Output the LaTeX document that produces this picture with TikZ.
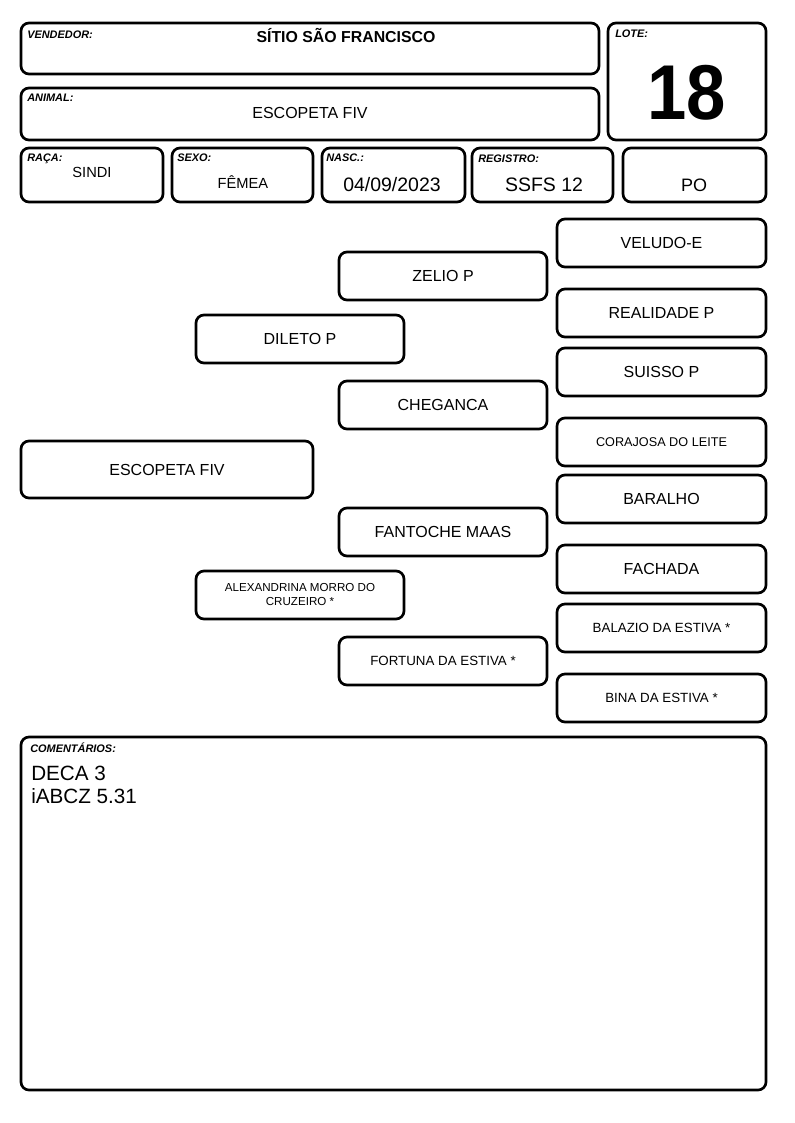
\documentclass[tikz,border=0pt]{standalone}
\usepackage{fontspec}
\setmainfont{Liberation Sans}
\usepackage{tikz}

\tikzset{
  caixa/.style 2 args={draw, line width=2pt, rounded corners=6pt, inner sep=0pt,
    minimum width=#1*0.75pt, minimum height=#2*0.75pt},
  rotulo/.style={anchor=base west, inner sep=0pt, font=\fontsize{8.2}{10}\selectfont\bfseries\itshape},
  valor/.style={anchor=base, inner sep=0pt},
  grande/.style={font=\fontsize{12}{14}\selectfont},
  pequena/.style={font=\fontsize{10}{12}\selectfont},
}

\begin{document}
\begin{tikzpicture}[x=0.75pt,y=-0.75pt]
\useasboundingbox (0,0) rectangle (794,1123);

% cabecalho
\node[caixa={578}{51}] (vendedor) at (310,48.5) {};
\node[rotulo] (vendedorlbl) at (27,39) {VENDEDOR:};
\node[valor,font=\fontsize{11.9}{14}\selectfont\bfseries] (vendedortxt) at (346,43) {SÍTIO SÃO FRANCISCO};

\node[caixa={578}{52}] (animal) at (310,114) {};
\node[rotulo] (animallbl) at (27,102) {ANIMAL:};
\node[valor,grande] (animaltxt) at (310,119) {ESCOPETA FIV};

\node[caixa={158}{117}] (lote) at (687,81.5) {};
\node[rotulo] (lotelbl) at (615,38) {LOTE:};
\node[valor,font=\fontsize{53}{53}\selectfont\bfseries] (lotetxt) at (687,120) {\scalebox{1}[1.1]{18}};

\node[caixa={142}{54}] (raca) at (92,175) {};
\node[rotulo] (racalbl) at (27,162) {RAÇA:};
\node[valor,font=\fontsize{11}{13}\selectfont] (racatxt) at (92,178) {SINDI};

\node[caixa={141}{54}] (sexo) at (242.5,175) {};
\node[rotulo] (sexolbl) at (177,162) {SEXO:};
\node[valor,font=\fontsize{11}{13}\selectfont] (sexotxt) at (243,189) {FÊMEA};

\node[caixa={143}{54}] (nasc) at (393.5,175) {};
\node[rotulo] (nasclbl) at (326,162) {NASC.:};
\node[valor,font=\fontsize{14.6}{16}\selectfont] (nasctxt) at (392,192) {04/09/2023};

\node[caixa={141}{54}] (registro) at (542.5,175) {};
\node[rotulo] (registrolbl) at (478,163) {REGISTRO:};
\node[valor,font=\fontsize{14.6}{16}\selectfont] (registrotxt) at (544,192) {SSFS 12};

\node[caixa={143}{54}] (po) at (694.5,175) {};
\node[valor,font=\fontsize{13.5}{15}\selectfont] (potxt) at (694,192) {PO};

% genealogia
\node[caixa={292}{57},grande] (escopeta) at (167,469.5) {ESCOPETA FIV};

\node[caixa={208}{48},grande] (dileto) at (300,339) {DILETO P};
\node[caixa={208}{48},align=center,font=\fontsize{8.7}{10.5}\selectfont] (alexandrina) at (300,595) {ALEXANDRINA MORRO DO\\CRUZEIRO *};

\node[caixa={208}{48},grande] (zelio) at (443,276) {ZELIO P};
\node[caixa={208}{48},grande] (cheganca) at (443,405) {CHEGANCA};
\node[caixa={208}{48},grande] (fantoche) at (443,532) {FANTOCHE MAAS};
\node[caixa={208}{48},pequena] (fortuna) at (443,661) {FORTUNA DA ESTIVA *};

\node[caixa={209}{48},grande] (veludo) at (661.5,243) {VELUDO-E};
\node[caixa={209}{48},grande] (realidade) at (661.5,313) {REALIDADE P};
\node[caixa={209}{48},grande] (suisso) at (661.5,372) {SUISSO P};
\node[caixa={209}{48},font=\fontsize{9.5}{11}\selectfont] (corajosa) at (661.5,442) {CORAJOSA DO LEITE};
\node[caixa={209}{48},grande] (baralho) at (661.5,499) {BARALHO};
\node[caixa={209}{48},grande] (fachada) at (661.5,569) {FACHADA};
\node[caixa={209}{48},pequena] (balazio) at (661.5,628) {BALAZIO DA ESTIVA *};
\node[caixa={209}{48},pequena] (bina) at (661.5,698) {BINA DA ESTIVA *};

% comentarios
\node[caixa={745}{353}] (comentarios) at (393.5,913.5) {};
\node[rotulo] (comentarioslbl) at (30,752) {COMENTÁRIOS:};
\node[anchor=base west,inner sep=0pt,font=\fontsize{15.5}{18}\selectfont] (deca) at (31,780) {DECA 3};
\node[anchor=base west,inner sep=0pt,font=\fontsize{15.5}{18}\selectfont] (iabcz) at (31,803) {iABCZ 5.31};
\end{tikzpicture}
\end{document}
